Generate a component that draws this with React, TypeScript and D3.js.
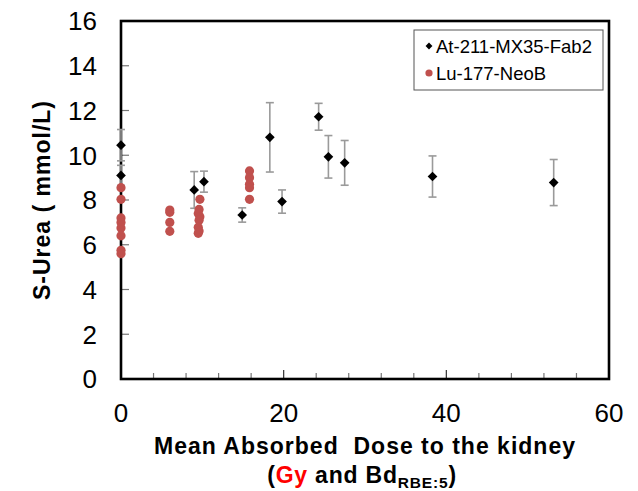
import React from "react";
import * as d3 from "d3";

const atDose = [0, 0, 9.0, 10.2, 14.9, 18.3, 19.8, 24.3, 25.5, 27.5, 38.3, 53.2];
const atUrea = [10.45, 9.1, 8.45, 8.82, 7.33, 10.8, 7.93, 11.72, 9.93, 9.66, 9.05, 8.78];
const atErr = [0.7, 0.45, 0.82, 0.47, 0.32, 1.55, 0.52, 0.6, 0.95, 1.0, 0.92, 1.03];

const luDose = [0, 0, 0, 0, 0, 0, 0, 0, 6, 6, 6, 6, 9.7, 9.6, 9.5, 9.7, 9.6, 9.5, 9.6, 9.5, 15.8, 15.8, 15.8, 15.8, 15.8];
const luUrea = [8.55, 8.03, 7.2, 7.0, 6.75, 6.4, 5.75, 5.6, 7.55, 7.45, 7.0, 6.6, 8.03, 7.58, 7.4, 7.25, 7.1, 6.78, 6.61, 6.51, 9.3, 9.0, 8.7, 8.55, 8.03];

const yTicks = [0, 2, 4, 6, 8, 10, 12, 14, 16];
const xLabelTicks = [0, 20, 40, 60];
const xMinorTicks = [4, 8, 12, 16, 24, 28, 32, 36, 44, 48, 52, 56];
const xMajorInner = [20, 40];
const legendLabels = ["At-211-MX35-Fab2", "Lu-177-NeoB"];

const W = 638;
const H = 491;
const L = 121, R = 609, T = 21, B = 379;
const RED = "#C0504D";
const FONT = "Liberation Sans, Arial, sans-serif";

export default function App() {
  const x = d3.scaleLinear().domain([0, 60]).range([L, R]);
  const y = d3.scaleLinear().domain([0, 16]).range([B, T]);
  const diamond = d3.symbol().type(d3.symbolDiamond2).size(60)();
  const diamondSmall = d3.symbol().type(d3.symbolDiamond2).size(30)();

  return (
    <svg width={W} height={H} style={{ position: "absolute", left: 0, top: 0, background: "#fff" }} fontFamily={FONT}>
      <rect x={0} y={0} width={W} height={H} fill="#fff" />
      {/* y ticks */}
      {yTicks.map((t) => (
        <g key={"yt" + t}>
          {t > 0 && t < 16 && <line x1={L} x2={L + 8} y1={y(t)} y2={y(t)} stroke="#777" strokeWidth={1.2} />}
          <text x={97} y={y(t)} dy="0.36em" textAnchor="end" fontSize={26} fill="#000">{t}</text>
        </g>
      ))}
      {xMinorTicks.map((t) => (
        <line key={"xm" + t} x1={x(t)} x2={x(t)} y1={B} y2={B - 6} stroke="#777" strokeWidth={1.2} />
      ))}
      {xMajorInner.map((t) => (
        <line key={"xM" + t} x1={x(t)} x2={x(t)} y1={B} y2={B - 9} stroke="#333" strokeWidth={1.2} />
      ))}
      {xLabelTicks.map((t) => (
        <text key={"xl" + t} x={x(t)} y={422} textAnchor="middle" fontSize={26} fill="#000">{t}</text>
      ))}
      {/* frame */}
      <rect x={L} y={T} width={R - L} height={B - T} fill="none" stroke="#000" strokeWidth={2.6} />

      {/* error bars */}
      {atDose.map((d, i) => {
        const cx = x(d);
        const y1 = y(atUrea[i] + atErr[i]);
        const y2 = y(atUrea[i] - atErr[i]);
        return (
          <g key={"eb" + i} stroke="#9a9a9a" strokeWidth={1.6}>
            <line x1={cx} x2={cx} y1={y1} y2={y2} />
            <line x1={cx - 4} x2={cx + 4} y1={y1} y2={y1} />
            <line x1={cx - 4} x2={cx + 4} y1={y2} y2={y2} />
          </g>
        );
      })}
      {/* Lu points */}
      {luDose.map((d, i) => (
        <circle key={"lu" + i} cx={x(d)} cy={y(luUrea[i])} r={4.6} fill={RED} />
      ))}
      {/* At points */}
      {atDose.map((d, i) => (
        <path key={"at" + i} d={diamond as string} transform={`translate(${x(d)},${y(atUrea[i])})`} fill="#000" />
      ))}

      {/* legend */}
      <rect x={414} y={30} width={189} height={60} fill="#fff" stroke="#555" strokeWidth={1} />
      <path d={diamondSmall as string} transform="translate(429,46)" fill="#000" />
      <text x={436} y={46} dy="0.36em" fontSize={18.5} fill="#000">{legendLabels[0]}</text>
      <circle cx={429} cy={73} r={3.6} fill={RED} />
      <text x={436} y={73} dy="0.36em" fontSize={18.5} fill="#000">{legendLabels[1]}</text>

      {/* axis titles */}
      <text x={365} y={454} textAnchor="middle" fontSize={23} fontWeight="bold" letterSpacing={1} fill="#000" xmlSpace="preserve">Mean Absorbed  Dose to the kidney</text>
      <text x={362} y={483} textAnchor="middle" fontSize={23} fontWeight="bold" letterSpacing={0.8} fill="#000">
        (<tspan fill="#FF0000">Gy</tspan> and Bd<tspan fontSize={15.5} dy={5}>RBE:5</tspan><tspan dy={-5}>)</tspan>
      </text>
      <text transform="translate(50,200) rotate(-90)" textAnchor="middle" fontSize={23} fontWeight="bold" letterSpacing={1} fill="#000" xmlSpace="preserve">S-Urea ( mmol/L)</text>
    </svg>
  );
}
